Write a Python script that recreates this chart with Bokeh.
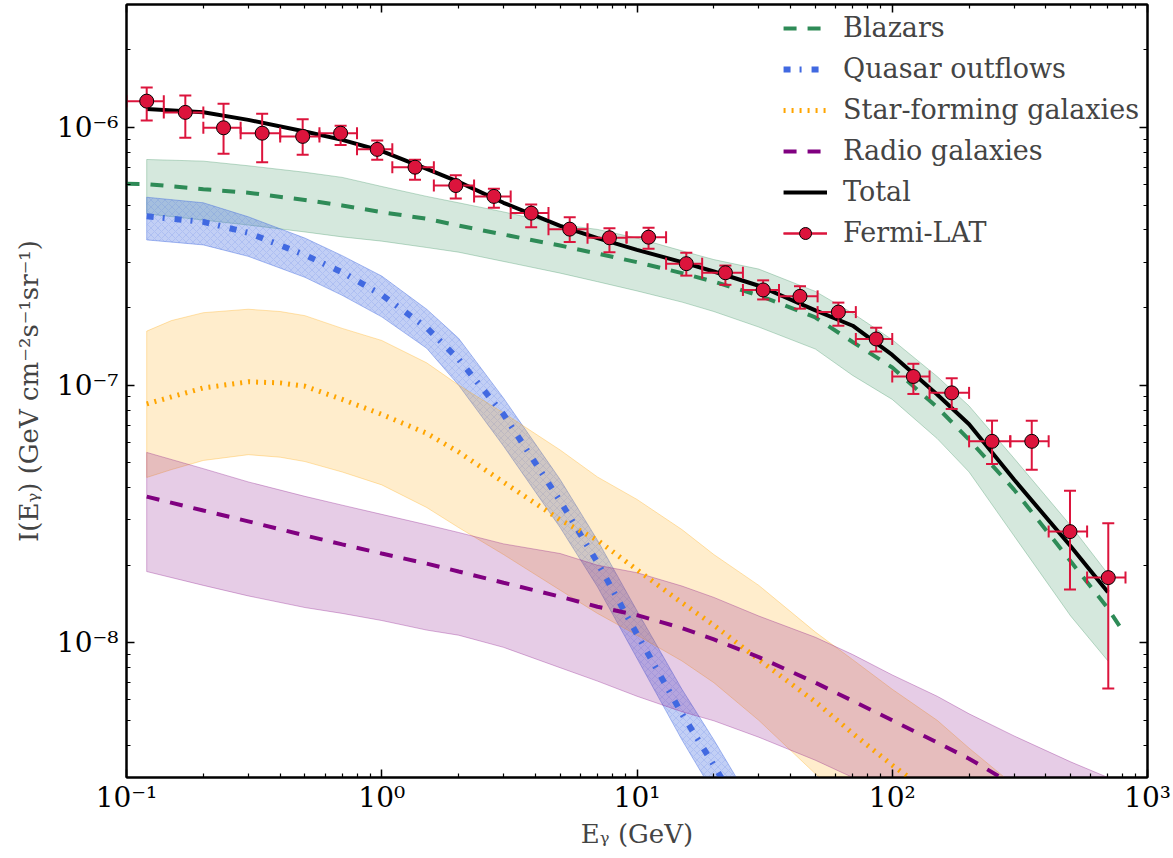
from bokeh.plotting import figure
from bokeh.models import FixedTicker, LogAxis, Legend, LegendItem, ColumnDataSource
from bokeh.embed import file_html
from bokeh.resources import INLINE
import math

# ---------------- data ----------------
# Blazars
E_bl_line = [0.1, 0.12, 0.2, 0.3, 0.5, 0.7, 1, 1.5, 2, 3, 5, 7, 10, 15, 20, 30, 50, 70, 100, 150, 200, 300, 500, 700, 800]
I_bl_line = [6.04e-7, 6.03e-7, 5.76e-7, 5.58e-7, 5.23e-7, 4.98e-7, 4.69e-7, 4.42e-7, 4.16e-7, 3.84e-7, 3.48e-7,
             3.24e-7, 3.0e-7, 2.72e-7, 2.52e-7, 2.23e-7, 1.83e-7, 1.47e-7, 1.17e-7, 8.2e-8, 6.14e-8, 3.93e-8,
             2.07e-8, 1.36e-8, 1.11e-8]
E_bl_band = [0.12, 0.2, 0.3, 0.5, 0.7, 1, 1.5, 2, 3, 5, 7, 10, 15, 20, 30, 50, 70, 100, 150, 200, 300, 500, 700]
I_bl_up = [7.51e-7, 7.4e-7, 7.1e-7, 6.7e-7, 6.4e-7, 5.9e-7, 5.4e-7, 5.1e-7, 4.7e-7, 4.2e-7, 4.02e-7, 3.72e-7,
           3.32e-7, 3.07e-7, 2.82e-7, 2.31e-7, 1.9e-7, 1.5e-7, 1.08e-7, 8.3e-8, 5.2e-8, 2.85e-8, 1.85e-8]
I_bl_lo = [4.62e-7, 4.37e-7, 4.18e-7, 3.93e-7, 3.76e-7, 3.62e-7, 3.42e-7, 3.28e-7, 3.02e-7, 2.72e-7, 2.52e-7,
           2.32e-7, 2.1e-7, 1.93e-7, 1.68e-7, 1.38e-7, 1.09e-7, 8.8e-8, 6.2e-8, 4.6e-8, 2.6e-8, 1.27e-8, 8.5e-9]

# Quasar outflows
E_qo = [0.12, 0.2, 0.3, 0.5, 0.7, 1, 1.5, 2, 3, 5, 7, 10, 15, 20, 25]
I_qo = [4.52e-7, 4.30e-7, 3.90e-7, 3.20e-7, 2.74e-7, 2.24e-7, 1.67e-7, 1.26e-7, 7.7e-8, 3.55e-8, 2.05e-8,
        1.08e-8, 5.3e-9, 3.35e-9, 2.3e-9]
I_qo_up = [5.36e-7, 5.1e-7, 4.5e-7, 3.72e-7, 3.18e-7, 2.65e-7, 1.97e-7, 1.52e-7, 8.9e-8, 4.3e-8, 2.5e-8,
           1.33e-8, 6.6e-9, 4.2e-9, 2.9e-9]
I_qo_lo = [3.66e-7, 3.5e-7, 3.16e-7, 2.62e-7, 2.23e-7, 1.84e-7, 1.39e-7, 1.0e-7, 5.8e-8, 2.8e-8, 1.65e-8,
           8.7e-9, 4.2e-9, 2.6e-9, 1.7e-9]

# Star-forming galaxies
E_sf = [0.12, 0.15, 0.2, 0.3, 0.4, 0.5, 0.7, 1, 1.5, 2, 3, 5, 7, 10, 15, 20, 30, 50, 70, 100, 150, 200, 300]
I_sf = [8.45e-8, 9.0e-8, 9.75e-8, 1.03e-7, 1.02e-7, 9.9e-8, 8.8e-8, 7.7e-8, 6.5e-8, 5.5e-8, 4.2e-8, 3.0e-8,
        2.5e-8, 1.92e-8, 1.43e-8, 1.17e-8, 8.6e-9, 5.9e-9, 4.45e-9, 3.35e-9, 2.5e-9, 2.0e-9, 1.5e-9]
I_sf_up = [1.62e-7, 1.78e-7, 1.91e-7, 1.97e-7, 1.93e-7, 1.86e-7, 1.66e-7, 1.49e-7, 1.22e-7, 1.0e-7, 7.8e-8,
           5.6e-8, 4.4e-8, 3.6e-8, 2.75e-8, 2.2e-8, 1.67e-8, 1.1e-8, 8.6e-9, 6.6e-9, 5.0e-9, 3.9e-9, 2.8e-9]
I_sf_lo = [4.38e-8, 4.7e-8, 5.1e-8, 5.37e-8, 5.25e-8, 5.05e-8, 4.6e-8, 4.1e-8, 3.35e-8, 2.8e-8, 2.2e-8,
           1.6e-8, 1.3e-8, 1.07e-8, 8.5e-9, 7.0e-9, 5.0e-9, 3.1e-9, 2.4e-9, 1.8e-9, 1.3e-9, 1.0e-9, 7e-10]

# Radio galaxies
E_rg = [0.12, 0.2, 0.3, 0.5, 0.7, 1, 1.5, 2, 3, 5, 7, 10, 15, 20, 30, 50, 70, 100, 150, 200, 300, 500, 700]
I_rg = [3.69e-8, 3.26e-8, 2.96e-8, 2.61e-8, 2.41e-8, 2.22e-8, 2.03e-8, 1.89e-8, 1.71e-8, 1.51e-8, 1.38e-8,
        1.28e-8, 1.14e-8, 1.03e-8, 8.8e-9, 7.0e-9, 5.95e-9, 5.0e-9, 4.1e-9, 3.55e-9, 2.8e-9, 2.1e-9, 1.7e-9]
I_rg_up = [5.48e-8, 4.74e-8, 4.21e-8, 3.70e-8, 3.42e-8, 3.15e-8, 2.87e-8, 2.68e-8, 2.42e-8, 2.22e-8, 2.0e-8,
           1.87e-8, 1.66e-8, 1.5e-8, 1.27e-8, 1.05e-8, 9.0e-9, 7.5e-9, 6.2e-9, 5.3e-9, 4.35e-9, 3.45e-9, 3.0e-9]
I_rg_lo = [1.89e-8, 1.67e-8, 1.52e-8, 1.37e-8, 1.30e-8, 1.22e-8, 1.12e-8, 1.07e-8, 9.6e-9, 8.0e-9, 7.1e-9,
           6.2e-9, 5.4e-9, 4.98e-9, 4.3e-9, 3.5e-9, 3.0e-9, 2.6e-9, 2.1e-9, 1.8e-9, 1.5e-9, 1.2e-9, 1.0e-9]

# Total
E_tot = [0.12, 0.2, 0.3, 0.5, 0.7, 1, 1.5, 2, 3, 5, 7, 10, 15, 20, 30, 50, 70, 100, 150, 200, 300, 500, 700]
I_tot = [1.18e-6, 1.145e-6, 1.07e-6, 9.65e-7, 8.95e-7, 8.1e-7, 6.9e-7, 6.15e-7, 5.1e-7, 4.15e-7, 3.72e-7,
         3.35e-7, 3.0e-7, 2.76e-7, 2.43e-7, 1.95e-7, 1.7e-7, 1.31e-7, 9.2e-8, 7.05e-8, 4.3e-8, 2.37e-8, 1.57e-8]

# Fermi-LAT data
E_edges = [0.1, 0.14, 0.2, 0.28, 0.4, 0.57, 0.8, 1.1, 1.6, 2.3, 3.2, 4.5, 6.4, 9.1, 13, 18, 26, 36, 51, 72,
           100, 140, 200, 290, 410, 580, 820]
E_fermi = [0.12, 0.17, 0.24, 0.34, 0.49, 0.69, 0.96, 1.35, 1.95, 2.75, 3.85, 5.45, 7.8, 11.1, 15.6, 22.2, 31.2,
           43.5, 61.5, 86.5, 121, 171, 246, 352, 497, 702]
I_fermi = [1.265e-6, 1.144e-6, 9.97e-7, 9.50e-7, 9.23e-7, 9.50e-7, 8.22e-7, 7.01e-7, 5.95e-7, 5.40e-7, 4.65e-7,
           4.03e-7, 3.73e-7, 3.75e-7, 2.96e-7, 2.73e-7, 2.34e-7, 2.21e-7, 1.92e-7, 1.51e-7, 1.08e-7, 9.33e-8,
           6.05e-8, 6.05e-8, 2.70e-8, 1.79e-8]
I_fermi_hi = [1.43e-6, 1.331e-6, 1.236e-6, 1.13e-6, 1.077e-6, 1.015e-6, 8.90e-7, 7.49e-7, 6.53e-7, 5.78e-7,
              5.02e-7, 4.48e-7, 4.06e-7, 4.08e-7, 3.26e-7, 2.91e-7, 2.55e-7, 2.42e-7, 2.09e-7, 1.67e-7, 1.21e-7,
              1.063e-7, 7.28e-8, 7.28e-8, 3.89e-8, 2.91e-8]
I_fermi_lo = [1.065e-6, 9.12e-7, 7.9e-7, 7.33e-7, 7.83e-7, 8.54e-7, 7.49e-7, 6.26e-7, 5.30e-7, 4.88e-7, 4.10e-7,
              3.59e-7, 3.28e-7, 3.38e-7, 2.66e-7, 2.45e-7, 2.15e-7, 1.98e-7, 1.70e-7, 1.35e-7, 9.24e-8, 8.08e-8,
              4.94e-8, 4.69e-8, 1.61e-8, 6.65e-9]

x_major = [0.1, 1, 10, 100, 1000]
x_labels = ["10\u207b\u00b9", "10\u2070", "10\u00b9", "10\u00b2", "10\u00b3"]
y_major = [1e-8, 1e-7, 1e-6]
y_labels = ["10\u207b\u2078", "10\u207b\u2077", "10\u207b\u2076"]

# ---------------- figure ----------------
FONT = "DejaVu Serif"
GREEN, BLUE, ORANGE, PURPLE, CRIMSON = "#2E8B57", "#4169E1", "#FFA500", "#800080", "#DC143C"

p = figure(width=1173, height=858, x_axis_type="log", y_axis_type="log",
           x_range=(0.1, 1000), y_range=(3e-9, 3e-6),
           output_backend="svg", toolbar_location=None,
           min_border_left=126, min_border_right=26, min_border_top=4, min_border_bottom=81)
p.background_fill_color = "white"
p.border_fill_color = "white"
p.outline_line_color = "black"
p.outline_line_width = 2
p.xgrid.visible = False
p.ygrid.visible = False

x_minor = [m * 10.0 ** k for k in range(-1, 3) for m in range(2, 10)]
y_minor = [m * 10.0 ** k for k in range(-9, -5) for m in range(2, 10)]


def style_axis(ax, major, minor, labels):
    ax.ticker = FixedTicker(ticks=major, minor_ticks=minor)
    ax.major_label_overrides = {t: l for t, l in zip(major, labels)}
    ax.major_tick_in = 8
    ax.major_tick_out = 0
    ax.minor_tick_in = 4
    ax.minor_tick_out = 0
    ax.axis_line_width = 2
    ax.major_tick_line_width = 1.5
    ax.minor_tick_line_width = 1.2
    ax.major_label_text_font = FONT
    ax.major_label_text_font_size = "28px"
    ax.major_label_text_color = "black"
    ax.axis_label_text_font = FONT
    ax.axis_label_text_font_size = "26px"
    ax.axis_label_text_font_style = "normal"


style_axis(p.xaxis[0], x_major, x_minor, x_labels)
style_axis(p.yaxis[0], y_major, y_minor, y_labels)
p.xaxis[0].axis_label = "E\u1d67 (GeV)"
p.yaxis[0].axis_label = "I(E\u1d67) (GeV cm\u207b\u00b2s\u207b\u00b9sr\u207b\u00b9)"
p.xaxis[0].major_label_standoff = 3
p.yaxis[0].major_label_standoff = 8
p.xaxis[0].axis_label_standoff = 2
p.yaxis[0].axis_label_standoff = 10

top = LogAxis()
style_axis(top, x_major, x_minor, ["" for _ in x_major])
right = LogAxis()
style_axis(right, y_major, y_minor, ["" for _ in y_major])
p.add_layout(top, "above")
p.add_layout(right, "right")


def band(E, up, lo, color, alpha, **kw):
    xs = list(E) + list(E)[::-1]
    ys = list(up) + list(lo)[::-1]
    return p.patch(xs, ys, fill_color=color, fill_alpha=alpha, line_color=color, line_alpha=alpha + 0.1,
                   line_width=1, **kw)


band(E_bl_band, I_bl_up, I_bl_lo, GREEN, 0.2)
band(E_qo, I_qo_up, I_qo_lo, BLUE, 0.32, hatch_pattern="x", hatch_color=BLUE, hatch_alpha=0.22,
     hatch_scale=7, hatch_weight=0.7)
band(E_sf, I_sf_up, I_sf_lo, ORANGE, 0.2)
band(E_rg, I_rg_up, I_rg_lo, PURPLE, 0.2)

r_bl = p.line(E_bl_line, I_bl_line, line_color=GREEN, line_width=4, line_dash="13 11")
r_qo = p.line(E_qo, I_qo, line_color=BLUE, line_width=6, line_dash="7 9 2 10")
r_sf = p.line(E_sf, I_sf, line_color=ORANGE, line_width=5, line_dash="2 6")
r_rg = p.line(E_rg, I_rg, line_color=PURPLE, line_width=4, line_dash="13 11")
r_tot = p.line(E_tot, I_tot, line_color="black", line_width=4)

src = ColumnDataSource(dict(
    x=E_fermi, y=I_fermi, yhi=I_fermi_hi, ylo=I_fermi_lo,
    xlo=E_edges[:-1], xhi=E_edges[1:],
))
r_h = p.segment(x0="xlo", y0="y", x1="xhi", y1="y", source=src, line_color=CRIMSON, line_width=2)
r_v = p.segment(x0="x", y0="ylo", x1="x", y1="yhi", source=src, line_color=CRIMSON, line_width=2)
p.scatter(x="x", y="yhi", source=src, marker="dash", size=12, line_color=CRIMSON, line_width=2)
p.scatter(x="x", y="ylo", source=src, marker="dash", size=12, line_color=CRIMSON, line_width=2)
p.scatter(x="xlo", y="y", source=src, marker="dash", angle=math.pi / 2, size=12, line_color=CRIMSON, line_width=2)
p.scatter(x="xhi", y="y", source=src, marker="dash", angle=math.pi / 2, size=12, line_color=CRIMSON, line_width=2)
r_pt = p.scatter(x="x", y="y", source=src, marker="circle", size=14, fill_color=CRIMSON, line_color="black",
                 line_width=1)

legend = Legend(items=[
    LegendItem(label="Blazars", renderers=[r_bl]),
    LegendItem(label="Quasar outflows", renderers=[r_qo]),
    LegendItem(label="Star-forming galaxies", renderers=[r_sf]),
    LegendItem(label="Radio galaxies", renderers=[r_rg]),
    LegendItem(label="Total", renderers=[r_tot]),
    LegendItem(label="Fermi-LAT", renderers=[r_h, r_v, r_pt]),
], location="top_right")
legend.border_line_alpha = 0
legend.background_fill_alpha = 0
legend.label_text_font = FONT
legend.label_text_font_size = "27px"
legend.glyph_width = 44
legend.glyph_height = 30
legend.label_height = 30
legend.spacing = 10
legend.padding = 3
legend.margin = 5
legend.label_standoff = 16
p.add_layout(legend)

open("out.html", "w").write(file_html(p, INLINE))
